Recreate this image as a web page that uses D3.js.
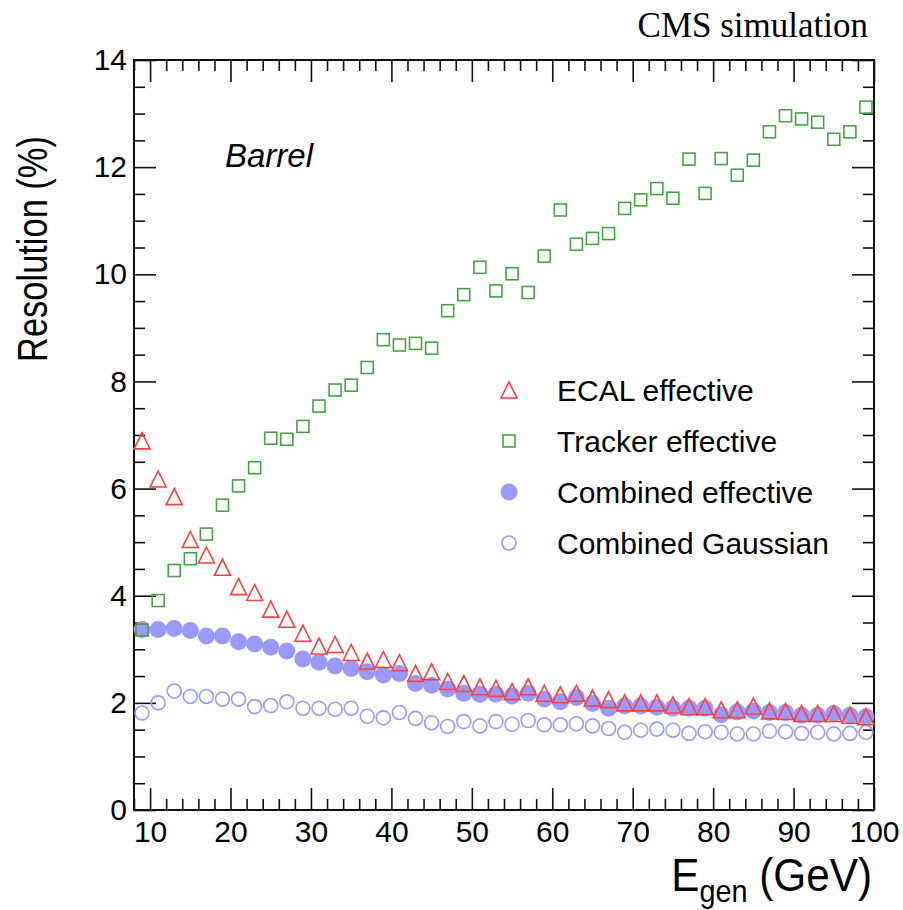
<!DOCTYPE html>
<html>
<head>
<meta charset="utf-8">
<script src="https://cdn.jsdelivr.net/npm/d3@7"></script>
<style>
  body { margin: 0; background: #fff; }
  text { font-family: "Liberation Sans", Arial, Helvetica, sans-serif; }
</style>
</head>
<body>
<div id="plot"></div>
<script>
// Data (resolution in %)
const energies = [9, 11, 13, 15, 17, 19, 21, 23, 25, 27, 29, 31, 33, 35, 37, 39, 41, 43, 45, 47, 49, 51, 53,
  55, 57, 59, 61, 63, 65, 67, 69, 71, 73, 75, 77, 79, 81, 83, 85, 87, 89, 91, 93, 95, 97, 99];

const ecalEffective = [6.89, 6.18, 5.85, 5.05, 4.76, 4.53, 4.17, 4.06, 3.75, 3.56, 3.30, 3.06, 3.09, 2.94,
  2.78, 2.81, 2.75, 2.55, 2.58, 2.40, 2.36, 2.30, 2.27, 2.21, 2.30, 2.18, 2.15, 2.18, 2.09, 2.06, 2.00,
  2.00, 2.00, 1.96, 1.93, 1.93, 1.87, 1.87, 1.94, 1.85, 1.84, 1.80, 1.80, 1.80, 1.77, 1.74];

const trackerEffective = [3.36, 3.91, 4.47, 4.69, 5.15, 5.69, 6.05, 6.39, 6.94, 6.92, 7.16, 7.54, 7.84, 7.93,
  8.26, 8.78, 8.68, 8.71, 8.62, 9.32, 9.62, 10.13, 9.69, 10.01, 9.66, 10.34, 11.20, 10.56, 10.67, 10.76,
  11.23, 11.39, 11.60, 11.42, 12.15, 11.51, 12.16, 11.85, 12.13, 12.66, 12.96, 12.90, 12.84, 12.52, 12.66, 13.12];

const combinedEffective = [3.37, 3.37, 3.39, 3.35, 3.25, 3.25, 3.14, 3.10, 3.04, 2.97, 2.82, 2.76, 2.69, 2.64,
  2.58, 2.52, 2.55, 2.36, 2.33, 2.26, 2.18, 2.16, 2.16, 2.13, 2.18, 2.07, 2.02, 2.10, 1.99, 1.90, 1.94,
  1.94, 1.92, 1.90, 1.90, 1.90, 1.78, 1.83, 1.85, 1.82, 1.82, 1.77, 1.77, 1.80, 1.77, 1.74];

const combinedGaussian = [1.81, 2.00, 2.22, 2.12, 2.12, 2.07, 2.07, 1.93, 1.95, 2.02, 1.90, 1.90, 1.88, 1.90,
  1.75, 1.72, 1.82, 1.71, 1.63, 1.56, 1.65, 1.57, 1.65, 1.60, 1.67, 1.59, 1.59, 1.61, 1.57, 1.52, 1.45,
  1.49, 1.51, 1.49, 1.43, 1.46, 1.45, 1.42, 1.42, 1.47, 1.46, 1.43, 1.45, 1.42, 1.43, 1.45];

const xMajorTicks = [10, 20, 30, 40, 50, 60, 70, 80, 90, 100];
const yMajorTicks = [0, 2, 4, 6, 8, 10, 12, 14];

const legendLabels = ["ECAL effective", "Tracker effective", "Combined effective", "Combined Gaussian"];

// Canvas and frame
const width = 903;
const height = 910;
const margin = { left: 134, right: 29, top: 60, bottom: 100 };
const plotW = width - margin.left - margin.right;
const plotH = height - margin.top - margin.bottom;

const svg = d3.select("#plot")
  .append("svg")
  .attr("width", width)
  .attr("height", height);

const x = d3.scaleLinear().domain([8, 100]).range([margin.left, margin.left + plotW]);
const y = d3.scaleLinear().domain([0, 14]).range([margin.top + plotH, margin.top]);

// minor ticks: every 2 GeV on x, every 0.5 % on y
const xMinor = d3.range(8, 100.01, 2).filter(v => v % 10 !== 0);
const yMinor = d3.range(0, 14.01, 0.5).filter(v => v % 2 !== 0);

const majorLen = 22, minorLen = 11;

function styleAxis(g) {
  g.select(".domain").remove();
  g.selectAll(".tick line").attr("stroke", "#111").attr("stroke-width", 1.6);
}

// bottom axis with labels
svg.append("g")
  .attr("transform", `translate(0,${y(0)})`)
  .call(d3.axisBottom(x).tickValues(xMajorTicks).tickSizeInner(-majorLen).tickSizeOuter(0).tickPadding(11))
  .call(styleAxis)
  .call(g => g.selectAll("text").attr("font-size", 30).attr("fill", "#000")
    .attr("font-family", "'Liberation Sans', Arial, sans-serif"));

svg.append("g")
  .attr("transform", `translate(0,${y(0)})`)
  .call(d3.axisBottom(x).tickValues(xMinor).tickSizeInner(-minorLen).tickSizeOuter(0).tickFormat(""))
  .call(styleAxis);

// top axis, ticks only
svg.append("g")
  .attr("transform", `translate(0,${y(14)})`)
  .call(d3.axisTop(x).tickValues(xMajorTicks).tickSizeInner(-majorLen).tickSizeOuter(0).tickFormat(""))
  .call(styleAxis);

svg.append("g")
  .attr("transform", `translate(0,${y(14)})`)
  .call(d3.axisTop(x).tickValues(xMinor).tickSizeInner(-minorLen).tickSizeOuter(0).tickFormat(""))
  .call(styleAxis);

// left axis with labels
svg.append("g")
  .attr("transform", `translate(${x(8)},0)`)
  .call(d3.axisLeft(y).tickValues(yMajorTicks).tickSizeInner(-majorLen).tickSizeOuter(0).tickPadding(7))
  .call(styleAxis)
  .call(g => g.selectAll("text").attr("font-size", 30).attr("fill", "#000")
    .attr("font-family", "'Liberation Sans', Arial, sans-serif"));

svg.append("g")
  .attr("transform", `translate(${x(8)},0)`)
  .call(d3.axisLeft(y).tickValues(yMinor).tickSizeInner(-minorLen).tickSizeOuter(0).tickFormat(""))
  .call(styleAxis);

// right axis, ticks only
svg.append("g")
  .attr("transform", `translate(${x(100)},0)`)
  .call(d3.axisRight(y).tickValues(yMajorTicks).tickSizeInner(-majorLen).tickSizeOuter(0).tickFormat(""))
  .call(styleAxis);

svg.append("g")
  .attr("transform", `translate(${x(100)},0)`)
  .call(d3.axisRight(y).tickValues(yMinor).tickSizeInner(-minorLen).tickSizeOuter(0).tickFormat(""))
  .call(styleAxis);

// frame
svg.append("rect")
  .attr("x", x(8))
  .attr("y", y(14))
  .attr("width", x(100) - x(8))
  .attr("height", y(0) - y(14))
  .attr("fill", "none")
  .attr("stroke", "#111")
  .attr("stroke-width", 2);

// Marker styles
const red = "#ff4040";
const green = "#45a545";
const blue = "#9999ff";

const triR = 8, sqSide = 12, fillR = 8.5, openR = 7;
const triPath = (cx, cy, r) => `M${cx - r},${cy + r}L${cx + r},${cy + r}L${cx},${cy - r}Z`;

const points = series => energies.map((e, i) => ({ e: e, v: series[i] }));

const marks = svg.append("g");

// combined effective (filled circles)
marks.selectAll("circle.comb")
  .data(points(combinedEffective))
  .enter().append("circle")
  .attr("class", "comb")
  .attr("cx", d => x(d.e))
  .attr("cy", d => y(d.v))
  .attr("r", fillR)
  .attr("fill", blue);

// combined gaussian (open circles)
marks.selectAll("circle.gaus")
  .data(points(combinedGaussian))
  .enter().append("circle")
  .attr("class", "gaus")
  .attr("cx", d => x(d.e))
  .attr("cy", d => y(d.v))
  .attr("r", openR)
  .attr("fill", "none")
  .attr("stroke", blue)
  .attr("stroke-width", 1.6);

// ECAL (open triangles)
marks.selectAll("path.ecal")
  .data(points(ecalEffective))
  .enter().append("path")
  .attr("class", "ecal")
  .attr("d", d => triPath(x(d.e), y(d.v), triR))
  .attr("fill", "none")
  .attr("stroke", red)
  .attr("stroke-width", 1.6);

// tracker (open squares)
marks.selectAll("rect.trk")
  .data(points(trackerEffective))
  .enter().append("rect")
  .attr("class", "trk")
  .attr("x", d => x(d.e) - sqSide / 2)
  .attr("y", d => y(d.v) - sqSide / 2)
  .attr("width", sqSide)
  .attr("height", sqSide)
  .attr("fill", "none")
  .attr("stroke", green)
  .attr("stroke-width", 1.6);

// Legend
const legend = svg.append("g");
const legX = 509, legTextX = 557, legY0 = 390, legStep = 51;

legend.selectAll("text")
  .data(legendLabels)
  .enter().append("text")
  .attr("x", legTextX)
  .attr("y", (d, i) => legY0 + i * legStep)
  .attr("dy", "0.36em")
  .attr("font-size", 30)
  .attr("fill", "#000")
  .text(d => d);

legend.append("path")
  .attr("d", triPath(legX, legY0, triR))
  .attr("fill", "none").attr("stroke", red).attr("stroke-width", 1.6);
legend.append("rect")
  .attr("x", legX - sqSide / 2).attr("y", legY0 + legStep - sqSide / 2)
  .attr("width", sqSide).attr("height", sqSide)
  .attr("fill", "none").attr("stroke", green).attr("stroke-width", 1.6);
legend.append("circle")
  .attr("cx", legX).attr("cy", legY0 + 2 * legStep).attr("r", fillR)
  .attr("fill", blue);
legend.append("circle")
  .attr("cx", legX).attr("cy", legY0 + 3 * legStep).attr("r", openR)
  .attr("fill", "none").attr("stroke", blue).attr("stroke-width", 1.6);

// Texts
svg.append("text")
  .attr("x", 868)
  .attr("y", 37)
  .attr("text-anchor", "end")
  .attr("font-size", 35)
  .style("font-family", "'Liberation Serif', 'Times New Roman', serif")
  .text("CMS simulation");

svg.append("text")
  .attr("x", 225)
  .attr("y", 167)
  .attr("font-size", 33)
  .attr("font-style", "italic")
  .text("Barrel");

// y title: a bit condensed like the original Helvetica
svg.append("text")
  .attr("transform", "translate(47,249) rotate(-90) scale(0.82,1)")
  .attr("text-anchor", "middle")
  .attr("font-size", 42)
  .text("Resolution (%)");

const xTitle = svg.append("text")
  .attr("transform", "translate(872,891) scale(0.9,1)")
  .attr("text-anchor", "end")
  .attr("font-size", 47);
xTitle.append("tspan").text("E");
xTitle.append("tspan").attr("font-size", 32).attr("dy", 11).text("gen");
xTitle.append("tspan").attr("dy", -11).text(" (GeV)");

console.log("chart drawn");
</script>
</body>
</html>
